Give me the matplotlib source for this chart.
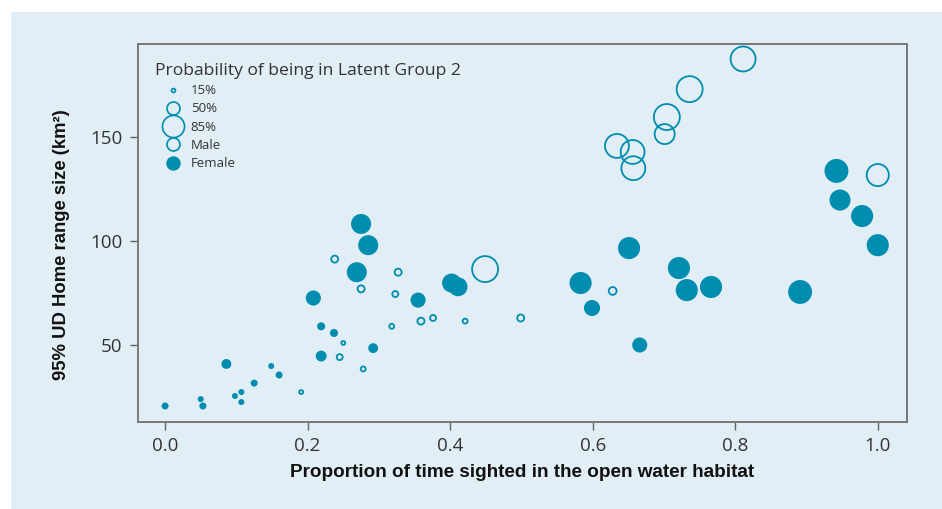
import numpy as np
import matplotlib.pyplot as plt
from matplotlib.patches import Rectangle
from matplotlib.lines import Line2D

# males (open circles)
male_x = [0.811, 0.736, 0.704, 0.701, 0.634, 0.656, 0.657, 1.000, 0.449, 0.628,
          0.238, 0.327, 0.275, 0.323, 0.250, 0.318, 0.359, 0.376, 0.421, 0.499,
          0.191, 0.245, 0.278]
male_y = [187.5, 173.0, 159.6, 151.4, 145.7, 142.8, 135.0, 131.7, 86.5, 76.0,
          91.3, 85.0, 77.0, 74.5, 51.0, 59.0, 61.5, 63.0, 61.5, 63.0,
          27.4, 44.2, 38.5]
male_p = [0.96, 1.00, 1.00, 0.77, 0.92, 0.92, 0.92, 0.85, 1.00, 0.30,
          0.27, 0.27, 0.27, 0.23, 0.15, 0.19, 0.27, 0.23, 0.19, 0.27,
          0.15, 0.23, 0.19]

# females (filled circles)
female_x = [0.942, 0.947, 0.978, 1.000, 0.651, 0.583, 0.599, 0.721, 0.732, 0.766,
            0.891, 0.666, 0.275, 0.285, 0.269, 0.208, 0.355, 0.402, 0.411, 0.219,
            0.237, 0.292, 0.219, 0.000, 0.050, 0.053, 0.086, 0.098, 0.107, 0.107,
            0.125, 0.149, 0.160]
female_y = [133.7, 119.7, 112.0, 98.0, 96.6, 79.8, 67.8, 87.0, 76.4, 77.9,
            75.5, 50.0, 108.2, 98.0, 85.0, 72.6, 71.6, 79.8, 78.0, 59.0,
            55.8, 48.5, 44.7, 20.7, 24.0, 20.7, 40.9, 25.5, 27.4, 22.6,
            31.7, 39.9, 35.6]
female_p = [0.92, 0.81, 0.85, 0.85, 0.85, 0.85, 0.62, 0.85, 0.85, 0.85,
            0.92, 0.58, 0.77, 0.77, 0.77, 0.58, 0.58, 0.73, 0.73, 0.31,
            0.31, 0.38, 0.42, 0.27, 0.23, 0.27, 0.38, 0.23, 0.23, 0.23,
            0.27, 0.23, 0.27]

legend_probs = [0.15, 0.50, 0.85]
legend_labels = ["15%", "50%", "85%"]
x_ticks = [0.0, 0.2, 0.4, 0.6, 0.8, 1.0]
y_ticks = [50, 100, 150]

TEAL = "#008db0"
BG = "#e1eef5"
TICK_FONT = ["Open Sans", "DejaVu Sans"]
LABEL_FONT = ["Liberation Sans", "DejaVu Sans"]
LEG_FONT = ["Open Sans", "DejaVu Sans"]


def msize(p):
    # marker diameter in points, radius ~13 px at p=1
    return 2 * 13 * np.asarray(p) * 0.72


fig = plt.figure(figsize=(9.42, 5.09), dpi=100)
fig.patches.append(Rectangle((11 / 942, 0), 1, 1 - 12 / 509, transform=fig.transFigure,
                             facecolor=BG, edgecolor="none", zorder=-10))

ax = fig.add_axes([138 / 942, 1 - 422 / 509, (907 - 138) / 942, (422 - 44) / 509])
ax.set_facecolor("none")

ax.scatter(female_x, female_y, s=msize(female_p) ** 2, color=TEAL, edgecolors="none",
           zorder=3)
ax.scatter(male_x, male_y, s=msize(male_p) ** 2, facecolors="none", edgecolors=TEAL,
           linewidths=1.3, zorder=3)

ax.set_xlim(-0.038, 1.041)
ax.set_ylim(13, 194.7)
ax.set_xticks(x_ticks)
ax.set_xticklabels([f"{v:.1f}" for v in x_ticks])
ax.set_yticks(y_ticks)
ax.set_yticklabels([str(v) for v in y_ticks])

for sp in ax.spines.values():
    sp.set_color("#777777")
    sp.set_linewidth(1.4)
ax.tick_params(direction="out", length=6, width=1.0, color="#666666",
               labelcolor="#333333")
ax.tick_params(axis="x", pad=5)
ax.tick_params(axis="y", pad=5)
for lab in ax.get_xticklabels() + ax.get_yticklabels():
    lab.set_family(TICK_FONT)
    lab.set_fontsize(13.5)

ax.set_xlabel("Proportion of time sighted in the open water habitat", family=LABEL_FONT,
              fontsize=13.6, fontweight="bold", color="#111111")
ax.set_ylabel("95% UD Home range size (km²)", family=LABEL_FONT, fontsize=13.3,
              fontweight="bold", color="#111111")
ax.xaxis.set_label_coords(0.5, -0.11)
ax.yaxis.set_label_coords(-0.088, 0.47)

handles = [Line2D([], [], ls="none", marker="o", markersize=msize(p), markerfacecolor="none",
                  markeredgecolor=TEAL, markeredgewidth=1.2) for p in legend_probs]
handles.append(Line2D([], [], ls="none", marker="o", markersize=msize(0.5),
                      markerfacecolor="none", markeredgecolor=TEAL, markeredgewidth=1.2))
handles.append(Line2D([], [], ls="none", marker="o", markersize=msize(0.5),
                      markerfacecolor=TEAL, markeredgecolor=TEAL))
leg = ax.legend(handles, legend_labels + ["Male", "Female"],
                title="Probability of being in Latent Group 2", loc="upper left",
                bbox_to_anchor=(0.005, 0.985), frameon=False, alignment="left",
                prop={"family": LEG_FONT, "size": 9.5}, handlelength=2.7,
                handletextpad=0.0, labelspacing=0.4, borderaxespad=0.6)
leg.get_title().set_family(LEG_FONT)
leg.get_title().set_fontsize(12.6)
leg.get_title().set_color("#333333")
for t in leg.get_texts():
    t.set_color("#333333")

fig.savefig("out.png", dpi=100)
